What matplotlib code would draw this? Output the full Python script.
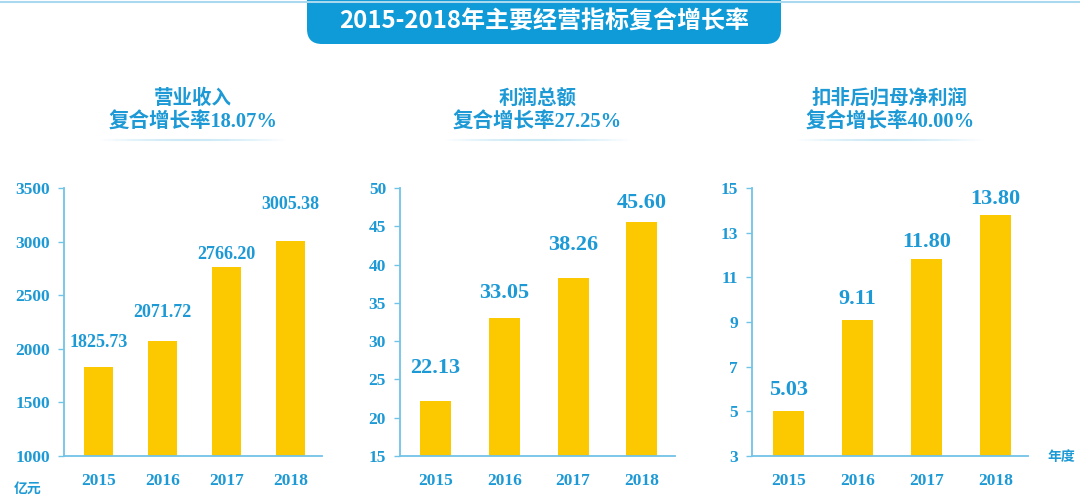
import numpy as np
import matplotlib
matplotlib.use("Agg")
import matplotlib.pyplot as plt
from matplotlib.patches import FancyBboxPatch
from matplotlib.collections import LineCollection

########################################

# Data

years = ["2015", "2016", "2017", "2018"]

revenue = [1825.73, 2071.72, 2766.20, 3005.38]
total_profit = [22.13, 33.05, 38.26, 45.60]
net_profit = [5.03, 9.11, 11.80, 13.80]

panel_names = ["营业收入", "利润总额", "扣非后归母净利润"]
panel_cagr = ["18.07%", "27.25%", "40.00%"]

y_ticks = [[1000, 1500, 2000, 2500, 3000, 3500],
           [15, 20, 25, 30, 35, 40, 45, 50],
           [3, 5, 7, 9, 11, 13, 15]]

title = "2015-2018年主要经营指标复合增长率"

########################################

# Style

blue = "#1d9ad6"
axis_blue = "#72c3e8"
bar_yellow = "#fcc800"
cjk = "Noto Sans CJK SC"
serif = "Liberation Serif"
mixed = [serif, cjk]

W, H = 1080, 503

# pixel layout of each panel: axis left, axis right, bar pitch, first bar centre
panel_px = [(64, 322, 64.0, 98.5), (400, 675, 68.8, 435.5), (752, 1028, 69.0, 788.5)]
axis_top, axis_bottom = 188, 456
label_size = [13, 16, 16]
# hand tuned label heights above each bar (pixels), as in the original artwork
label_lift = [[25, 29, 12, 37], [33, 25, 33, 19], [21, 21, 17, 16]]

fig = plt.figure(figsize = (W / 100, H / 100), dpi = 100)

# Background layer in pixel units for banner and decorations
bg = fig.add_axes([0, 0, 1, 1], zorder = 0)
bg.set_xlim(0, W)
bg.set_ylim(H, 0)
bg.axis("off")

bg.plot([0, W], [1.5, 1.5], color = "#a9d9ef", lw = 1.5)
banner = FancyBboxPatch((307, -30), 474, 74, boxstyle = "round,pad=0,rounding_size=15",
                        facecolor = "#0f9ad8", edgecolor = "none")
bg.add_patch(banner)
bg.text(544, 22, title, color = "white", fontsize = 17.3, fontweight = "bold",
        family = [cjk], ha = "center", va = "center")

series = [revenue, total_profit, net_profit]

for i, values in enumerate(series):
    left, right, pitch, first = panel_px[i]
    ax = fig.add_axes([left / W, 1 - axis_bottom / H, (right - left) / W, (axis_bottom - axis_top) / H], zorder = 1)
    ax.patch.set_alpha(0)

    x = np.arange(len(years))
    ax.bar(x, values, width = 0.45, color = bar_yellow)
    ax.set_xlim(-(first - left) / pitch, (right - first) / pitch)
    ax.set_ylim(y_ticks[i][0], y_ticks[i][-1])
    ax.set_yticks(y_ticks[i])
    ax.set_xticks(x)
    ax.set_xticklabels(years)

    for s in ["top", "right"]:
        ax.spines[s].set_visible(False)
    for s in ["left", "bottom"]:
        ax.spines[s].set_color(axis_blue)
        ax.spines[s].set_linewidth(1.3)

    ax.tick_params(axis = "y", length = 4, width = 1, color = axis_blue, pad = 6, labelcolor = blue)
    ax.tick_params(axis = "x", length = 0, pad = 12, labelcolor = blue)
    for lab in ax.get_xticklabels() + ax.get_yticklabels():
        lab.set_fontfamily(serif)
        lab.set_fontweight("bold")
        lab.set_fontsize(12.5)

    for xi, v, lift in zip(x, values, label_lift[i]):
        ax.annotate(f"{v:.2f}", (xi, v), xytext = (0, lift), textcoords = "offset pixels",
                    ha = "center", va = "center", color = blue, fontsize = label_size[i],
                    fontweight = "bold", family = serif)

    # panel heading, two lines, with a soft underline
    cx = (left + right) / 2
    bg.text(cx, 98, panel_names[i], color = blue, fontsize = 14, fontweight = "bold",
            family = [cjk], ha = "center", va = "center")
    bg.text(cx, 123, "复合增长率" + panel_cagr[i], color = blue, fontsize = 14.8, fontweight = "bold",
            family = mixed, ha = "center", va = "center")
    xs = np.linspace(cx - 95, cx + 95, 60)
    segs = [[(xs[k], 140), (xs[k + 1], 140)] for k in range(len(xs) - 1)]
    fade = np.sin(np.linspace(0, np.pi, len(segs))) * 0.35
    cols = [(0.45, 0.76, 0.91, a) for a in fade]
    bg.add_collection(LineCollection(segs, colors = cols, linewidths = 1.5))

bg.text(28, 489, "亿元", color = blue, fontsize = 10, fontweight = "bold",
        family = [cjk], ha = "center", va = "center")
bg.text(1061, 457, "年度", color = blue, fontsize = 10, fontweight = "bold",
        family = [cjk], ha = "center", va = "center")

plt.savefig("out.png", dpi = 100)
plt.close()
